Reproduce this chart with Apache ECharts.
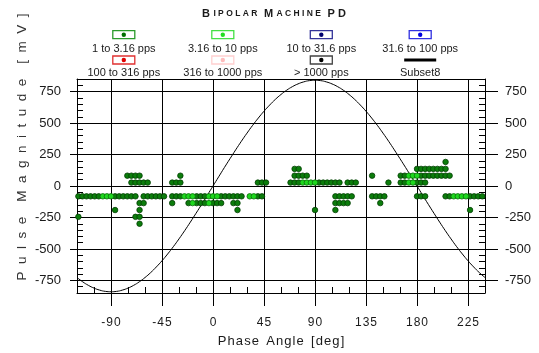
<!DOCTYPE html>
<html><head><meta charset="utf-8">
<script src="https://cdn.jsdelivr.net/npm/echarts@6/dist/echarts.min.js"></script>
<style>html,body{margin:0;padding:0;background:#fff}#c{width:539px;height:353px}</style>
</head><body><div id="c"></div>
<script>
// ---------- DATA ----------
const xTicks = [-90, -45, 0, 45, 90, 135, 180, 225];
const yTicks = [-750, -500, -250, 0, 250, 500, 750];
const legendLabels = ['1 to 3.16 pps', '3.16 to 10 pps', '10 to 31.6 pps', '31.6 to 100 pps',
  '100 to 316 pps', '316 to 1000 pps', '> 1000 pps', 'Subset8'];

// 1 to 3.16 pps (dark green) [phase, magnitude]
const pps1to316 = [
  [-118.8,-82],[-115.2,-82],[-111.6,-82],[-108,-82],[-104.4,-82],[-100.8,-82],[-86.4,-82],[-82.8,-82],[-79.2,-82],[-75.6,-82],[-72,-82],[-68.4,-82],
  [-61.2,-82],[-57.6,-82],[-54,-82],[-50.4,-82],[-46.8,-82],[-43.2,-82],
  [-36,-82],[-32.4,-82],[-28.8,-82],[-14.4,-82],[-10.8,-82],[-7.2,-82],[7.2,-82],[10.8,-82],[14.4,-82],[18,-82],[21.6,-82],[25.2,-82],
  [39.6,-82],[43.2,-82],
  [108,-82],[111.6,-82],[115.2,-82],[118.8,-82],[122.4,-82],
  [140.4,-82],[144,-82],[147.6,-82],[151.2,-82],
  [180,-82],[183.6,-82],[187.2,-82],
  [205.2,-82],[208.8,-82],[226.8,-82],[230.4,-82],[234,-82],[237.6,-82],
  [-64.8,-136],[-61.2,-136],[-36,-136],[-21.6,-136],[-14.4,-136],[-10.8,-136],[-7.2,-136],[0,-136],[3.6,-136],[7.2,-136],[18,-136],[21.6,-136],
  [108,-136],[111.6,-136],[115.2,-136],[118.8,-136],[147.6,-136],
  [-86.4,-191],[-64.8,-191],[21.6,-191],[90,-191],[108,-191],[226.8,-191],
  [-118.8,-245],[-68.4,-245],[-64.8,-245],
  [-64.8,-300],
  [-72,27],[-68.4,27],[-64.8,27],[-61.2,27],[-57.6,27],[-36,27],[-32.4,27],[-28.8,27],[39.6,27],[43.2,27],[46.8,27],
  [68.4,27],[72,27],[75.6,27],[93.6,27],[97.2,27],[100.8,27],[104.4,27],[108,27],[111.6,27],[118.8,27],[122.4,27],[126,27],
  [154.8,27],[165.6,27],[169.2,27],[180,27],[183.6,27],[187.2,27],
  [-75.6,82],[-72,82],[-68.4,82],[-64.8,82],[-28.8,82],[72,82],[75.6,82],[79.2,82],[82.8,82],[140.4,82],
  [165.6,82],[169.2,82],[183.6,82],[187.2,82],[190.8,82],[194.4,82],[198,82],[201.6,82],[205.2,82],[208.8,82],
  [72,136],[75.6,136],[180,136],[183.6,136],[187.2,136],[190.8,136],[194.4,136],[198,136],[201.6,136],[205.2,136],
  [205.2,191]
];
// 3.16 to 10 pps (light green)
const pps316to10 = [
  [-97.2,-82],[-93.6,-82],[-90,-82],[-25.2,-82],[-21.6,-82],[-18,-82],[-3.6,-82],[0,-82],[3.6,-82],[32.4,-82],[36,-82],
  [212.4,-82],[216,-82],[219.6,-82],[223.2,-82],
  [-18,-136],[-3.6,-136],
  [79.2,27],[82.8,27],[86.4,27],[90,27],[172.8,27],[176.4,27],
  [172.8,82],[176.4,82],[180,82]
];
// Subset8 reference sine
const refAngle = [-120,-115,-110,-105,-100,-95,-90,-85,-80,-75,-70,-65,-60,-55,-50,-45,-40,-35,-30,-25,-20,-15,-10,-5,
  0,5,10,15,20,25,30,35,40,45,50,55,60,65,70,75,80,85,90,95,100,105,110,115,120,125,130,135,140,145,150,155,160,165,170,175,
  180,185,190,195,200,205,210,215,220,225,230,235,240];
const refValue = [-727,-761,-789,-811,-827,-837,-840,-837,-827,-811,-789,-761,-727,-688,-643,-594,-540,-482,-420,-355,-287,-217,-146,-73,
  0,73,146,217,287,355,420,482,540,594,643,688,727,761,789,811,827,837,840,837,827,811,789,761,727,688,643,594,540,482,420,355,287,217,146,73,
  0,-73,-146,-217,-287,-355,-420,-482,-540,-594,-643,-688,-727];

// ---------- STYLE ----------
const FN = "'Liberation Sans',Arial,sans-serif";
const TXT = '#1a1a1a';
const legendBorder = ['#2a9a2a','#44e044','#333399','#3030e0','#e03030','#ffd0d0','#444444', null];
const legendDot = ['#006f00','#22dd22','#000070','#0000e0','#e00000','#ffbcbc','#000000', null];
const colX = [123.8, 222.8, 321.3, 420.2];
const boxY = [34.7, 60], labY = [48.7, 72.7];
const hair = v => String(v).split('').join('\u200A');

const graphics = [];
legendLabels.forEach((lab, i) => {
  const cx = colX[i % 4], r = Math.floor(i / 4);
  if (legendBorder[i]) {
    graphics.push({type:'rect', shape:{x:cx-11, y:boxY[r]-4, width:22, height:8},
      style:{fill:'#fff', stroke:legendBorder[i], lineWidth:1.3}});
    graphics.push({type:'circle', shape:{cx:cx, cy:boxY[r], r:2.2}, style:{fill:legendDot[i]}});
  } else {
    graphics.push({type:'line', shape:{x1:cx-16, y1:boxY[r], x2:cx+16, y2:boxY[r]}, style:{stroke:'#000', lineWidth:3}});
  }
  graphics.push({type:'text', x:cx, y:labY[r], style:{text:lab, fill:TXT, font:"11px "+FN, align:'center', verticalAlign:'middle'}});
});
graphics.push({type:'text', x:274, y:14, style:{
  text:'{a|B} {b|I P O L A R}  {a|M} {b|A C H I N E}  {a|P D}',
  align:'center', verticalAlign:'middle',
  rich:{a:{fontSize:11, fontWeight:'bold', fontFamily:FN, fill:TXT}, b:{fontSize:8.5, fontWeight:'bold', fontFamily:FN, fill:TXT}}
}});
graphics.push({type:'text', x:22, y:147, rotation:Math.PI/2, style:{
  text:'P  u  l  s  e    M  a  g  n  i  t  u  d  e    [  m  V  ]',
  font:"13.5px "+FN, fill:'#333', align:'center', verticalAlign:'middle'}});

const blk = {color:'#000', width:1};
const chart = echarts.init(document.getElementById('c'), null, {renderer:'canvas'});
chart.setOption({
  animation:false,
  backgroundColor:'#fff',
  grid:{left:77, right:54, top:79, bottom:55, containLabel:false},
  graphic:graphics,
  xAxis:[
    {type:'value', min:-120, max:240, position:'bottom',
     axisLine:{show:true, onZero:false, lineStyle:blk},
     axisTick:{show:true, customValues:xTicks, length:13, lineStyle:blk},
     axisLabel:{customValues:xTicks, margin:24, formatter:hair, color:TXT, fontFamily:FN, fontSize:12},
     splitLine:{show:true, lineStyle:blk},
     name:'P\u200Ah\u200Aa\u200As\u200Ae  A\u200An\u200Ag\u200Al\u200Ae  [\u200Ad\u200Ae\u200Ag\u200A]', nameLocation:'middle', nameGap:42,
     nameTextStyle:{color:TXT, fontFamily:FN, fontSize:13}},
    {type:'value', min:-120, max:240, interval:15, position:'bottom',
     axisLine:{show:false, onZero:false}, axisTick:{show:true, inside:true, length:6, lineStyle:blk},
     axisLabel:{show:false}, splitLine:{show:false}},
    {type:'value', min:-120, max:240, position:'top',
     axisLine:{show:true, onZero:false, lineStyle:blk}, axisTick:{show:false},
     axisLabel:{show:false}, splitLine:{show:false}}
  ],
  yAxis:[
    {type:'value', min:-850, max:850, position:'left',
     axisLine:{show:true, onZero:false, lineStyle:blk},
     axisTick:{show:true, customValues:yTicks, length:7, lineStyle:blk},
     axisLabel:{customValues:yTicks, margin:16, color:TXT, fontFamily:FN, fontSize:13},
     splitLine:{show:true, lineStyle:blk}},
    {type:'value', min:-850, max:850, position:'right',
     axisLine:{show:true, onZero:false, lineStyle:blk},
     axisTick:{show:true, customValues:yTicks, length:13, lineStyle:blk},
     axisLabel:{customValues:yTicks, margin:20, color:TXT, fontFamily:FN, fontSize:13},
     splitLine:{show:false}},
    {type:'value', min:-850, max:850, interval:50, position:'left',
     axisLine:{show:false, onZero:false}, axisTick:{show:true, inside:true, length:6, lineStyle:blk},
     axisLabel:{show:false}, splitLine:{show:false}},
    {type:'value', min:-850, max:850, interval:50, position:'right',
     axisLine:{show:false, onZero:false}, axisTick:{show:true, inside:true, length:6, lineStyle:blk},
     axisLabel:{show:false}, splitLine:{show:false}}
  ],
  series:[
    {name:'Subset8', type:'line', xAxisIndex:0, yAxisIndex:0, smooth:true, showSymbol:false, symbol:'none',
     data:refAngle.map((a, i) => [a, refValue[i]]), lineStyle:{color:'#000', width:1}, z:3},
    {name:'1 to 3.16 pps', type:'scatter', xAxisIndex:0, yAxisIndex:0, symbolSize:5.5, data:pps1to316,
     itemStyle:{color:'#0b7d0b', borderColor:'#033d03', borderWidth:0.8, opacity:1}, z:4},
    {name:'3.16 to 10 pps', type:'scatter', xAxisIndex:0, yAxisIndex:0, symbolSize:5.5, data:pps316to10,
     itemStyle:{color:'#1ed81e', borderColor:'#0a6a0a', borderWidth:0.8, opacity:1}, z:5}
  ]
});
</script></body></html>
